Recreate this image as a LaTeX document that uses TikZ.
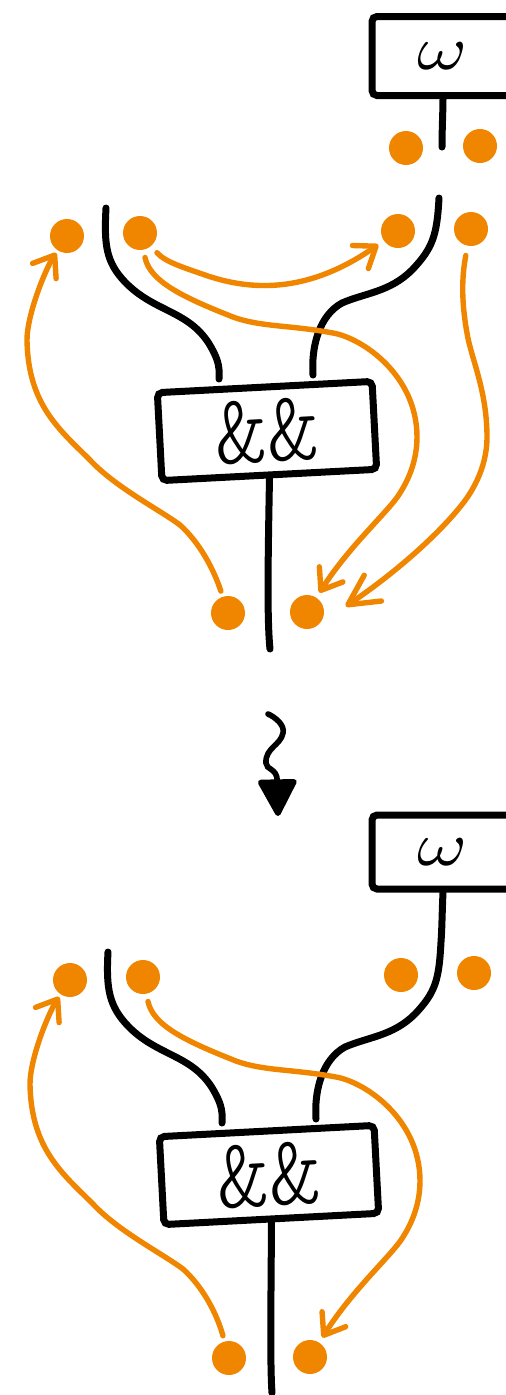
\documentclass[tikz,border=0pt]{standalone}
\usepackage{amsmath,amssymb}
\usepackage{tikz}
\usetikzlibrary{calc,arrows.meta,positioning}
\definecolor{dotorange}{RGB}{240,134,0}
\tikzset{
    % Boxes
    andbox/.style={
        draw=black, rounded corners=5pt, line width=7pt,
        minimum width=215pt, minimum height=88pt, inner sep=0pt,
        rotate=3, font=\fontsize{100}{100}\ttfamily\fontseries{l}\selectfont
    },
    omegabox/.style={
        draw=black, rounded corners=5pt, line width=7pt,
        minimum width=142pt, inner sep=0pt
    },
    % Dots and strands
    dot/.style={circle, fill=dotorange, minimum size=34pt, inner sep=0pt, outer sep=0pt},
    wire/.style={line width=7pt, line cap=round, black},
    flow/.style={line width=5.4pt, line cap=round, dotorange,
        -{Straight Barb[length=19pt,width=28pt,round]}},
    longflow/.style={flow, -{Straight Barb[length=30pt,width=31pt,round]}},
}
\newcommand{\omegalabel}{\raisebox{-3pt}{\scalebox{7.6}[6.2]{$\omega$}}}
\newcommand{\andlabel}{\&\&\hspace{10pt}}
\begin{document}
\begin{tikzpicture}[x=1pt,y=-1pt]
  \useasboundingbox (0,0) rectangle (506,1395);
  % before
  \node[omegabox,minimum height=79pt] (wtop) at (443,56) {\omegalabel};
  \node[dot] (ua) at (406,148) {};
  \node[dot] (ub) at (480,146) {};
  \coordinate (wend) at (442,147);
  \draw[wire] (wtop.south) .. controls (443,110) and (442,130) .. (wend);

  \node[andbox] (atop) at (267,431) {\andlabel};
  \node[dot] (la) at (67,236) {};
  \node[dot] (lb) at (140,233) {};
  \node[dot] (lc) at (398,231) {};
  \node[dot] (ld) at (471,229) {};
  \node[dot] (ba) at (228,613) {};
  \node[dot] (bb) at (307,612) {};
  \coordinate (ina) at (219,379);
  \coordinate (inb) at (313,375);
  \coordinate (wa) at (106,208);
  \coordinate (wb) at (439,198);
  \coordinate (wc) at (270,649);
  \draw[wire] (wa) .. controls (104,245) and (106,262) .. (125,282)
    .. controls (155,313) and (190,310) .. (211,347) .. controls (217,358) and (220,365) .. (ina);
  \draw[wire] (wb) .. controls (437,235) and (433,248) .. (412,270)
    .. controls (390,292) and (365,293) .. (342,303) .. controls (320,315) and (311,345) .. (inb);
  \draw[wire] (atop.south) .. controls (268,560) and (267,620) .. (wc);

  \draw[flow,shorten <=9pt,shorten >=7pt] (lb) .. controls (165,262) and (185,268) .. (205,275)
    .. controls (265,296) and (320,285) .. (lc);
  \draw[flow,shorten <=8pt,shorten >=6pt] (lb) .. controls (150,282) and (185,298) .. (233,317)
    .. controls (260,327) and (290,325) .. (333,333)
    .. controls (362,338) and (417,375) .. (417,437)
    .. controls (417,465) and (405,485) .. (400,493)
    .. controls (390,510) and (350,545) .. (bb);
  \draw[longflow,shorten <=10pt,shorten >=32pt] (ld) .. controls (462,275) and (461,300) .. (467,333)
    .. controls (471,358) and (487,390) .. (487,437)
    .. controls (487,470) and (470,495) .. (460,507)
    .. controls (435,538) and (391,576) .. (bb.south east);
  \draw[flow,shorten <=6pt,shorten >=3pt] (ba) .. controls (214,570) and (200,543) .. (180,525)
    .. controls (160,510) and (115,487) .. (90,460)
    .. controls (60,430) and (28,405) .. (27,340)
    .. controls (27,315) and (45,270) .. (la);

  % squiggle
  \coordinate (sqa) at (268,714);
  \coordinate (sqb) at (278,816);
  \draw[line width=5.6pt,line cap=round,-{Triangle[length=40pt,width=41pt,round]}] (sqa)
    .. controls (275,717) and (285,725) .. (283,733)
    .. controls (281,745) and (265,748) .. (266,763)
    .. controls (266,770) and (277,768) .. (sqb);

  % after
  \node[omegabox,minimum height=74pt] (wbot) at (443,852) {\omegalabel};
  \begin{scope}[shift={(3,744)}]
    \node[andbox] (abot) at (266,431) {\andlabel};
    \node[dot] (lae) at (67,236) {};
    \node[dot] (lbe) at (140,233) {};
    \node[dot] (lce) at (398,231) {};
    \node[dot] (lde) at (471,229) {};
    \node[dot] (bae) at (226,614) {};
    \node[dot] (bbe) at (307,613) {};
    \coordinate (inae) at (219,379);
    \coordinate (inbe) at (313,375);
    \coordinate (wae) at (105,208);
    \coordinate (wce) at (269,649);
    \draw[wire] (wae) .. controls (103,245) and (106,262) .. (125,282)
      .. controls (155,313) and (190,310) .. (211,347) .. controls (217,358) and (220,365) .. (inae);
    \draw[wire] (wbot.south) .. controls (439,170) and (439,185) .. (438,198)
      .. controls (436,235) and (433,248) .. (412,270)
      .. controls (390,292) and (365,293) .. (342,303) .. controls (320,315) and (311,345) .. (inbe);
    \draw[wire] (abot.south) .. controls (268,560) and (267,620) .. (wce);
    \draw[flow,shorten <=8pt,shorten >=6pt] (lbe) .. controls (150,282) and (185,298) .. (233,317)
      .. controls (260,327) and (290,325) .. (333,333)
      .. controls (362,338) and (417,375) .. (417,437)
      .. controls (417,465) and (405,485) .. (400,493)
      .. controls (390,510) and (350,545) .. (bbe);
    \draw[flow,shorten <=6pt,shorten >=3pt] (bae) .. controls (214,570) and (200,543) .. (180,525)
      .. controls (160,510) and (115,487) .. (90,460)
      .. controls (60,430) and (28,405) .. (27,340)
      .. controls (27,315) and (45,270) .. (lae);
  \end{scope}
\end{tikzpicture}
\end{document}
